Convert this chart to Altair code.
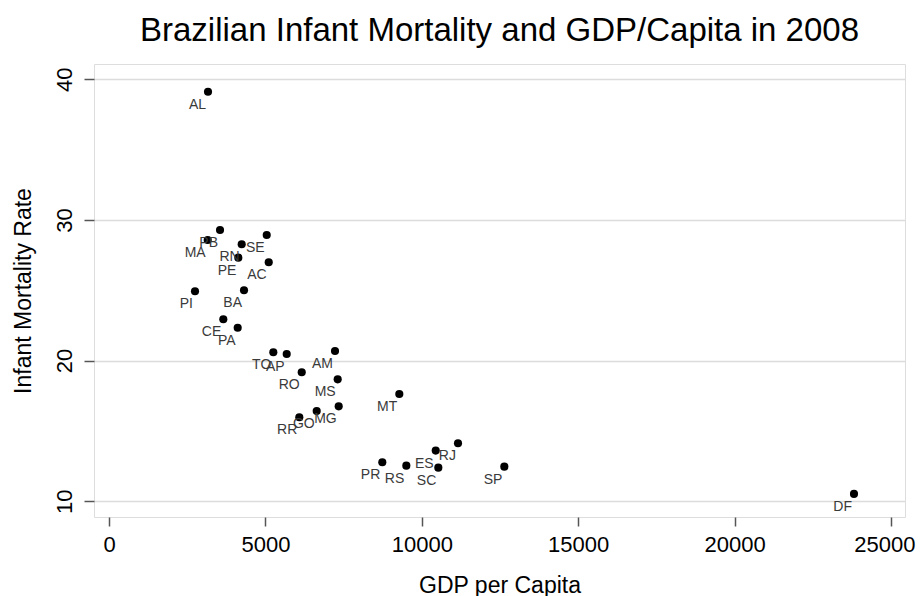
import altair as alt
import pandas as pd

states = ["AL", "MA", "PB", "SE", "RN", "PE", "AC", "PI", "BA", "CE", "PA",
          "TO", "AP", "AM", "RO", "MS", "MT", "MG", "GO", "RR",
          "PR", "RS", "ES", "RJ", "SC", "SP", "DF"]
gdp_per_capita = [3165, 3155, 3549, 5042, 4242, 4134, 5106, 2749, 4316, 3654, 4114,
                  5253, 5681, 7225, 6161, 7311, 9281, 7343, 6640, 6084,
                  8737, 9505, 10445, 11157, 10528, 12638, 23817]
infant_mortality = [39.12, 28.58, 29.29, 28.93, 28.27, 27.32, 26.99, 24.93, 25.00, 22.94, 22.34,
                    20.59, 20.47, 20.68, 19.17, 18.67, 17.63, 16.75, 16.42, 15.97,
                    12.77, 12.53, 13.60, 14.12, 12.39, 12.46, 10.52]

x_ticks = [0, 5000, 10000, 15000, 20000, 25000]
y_ticks = [10, 20, 30, 40]

df = pd.DataFrame({"state": states, "gdp": gdp_per_capita, "imr": infant_mortality})

FONT = "Liberation Sans"
W, H = 811, 453

x_enc = alt.X(
    "gdp:Q",
    scale=alt.Scale(domain=[-480, 25448], nice=False, zero=False),
    axis=alt.Axis(
        values=x_ticks, format="d", grid=False, domain=False,
        tickSize=9, tickWidth=1.5, tickColor="#555555",
        labelFont=FONT, labelFontSize=22, labelColor="black",
        labelBaseline="middle", labelPadding=18,
        labelFlush=14.5, labelFlushOffset=24,
        title="GDP per Capita", titleFont=FONT, titleFontSize=23,
        titleFontWeight="normal", titleColor="black",
        titleX=W / 2, titleY=68, titleAlign="center", titleBaseline="middle",
    ),
)
y_enc = alt.Y(
    "imr:Q",
    scale=alt.Scale(domain=[8.88, 41.09], nice=False, zero=False),
    axis=alt.Axis(
        values=y_ticks, format="d", grid=True, gridColor="#dcdcdc", gridWidth=1.5,
        domain=False,
        tickSize=10, tickWidth=1.5, tickColor="#555555",
        labelFont=FONT, labelFontSize=22, labelColor="black",
        labelAngle=270, labelAlign="center", labelBaseline="middle", labelPadding=20,
        title="Infant Mortality Rate", titleFont=FONT, titleFontSize=23,
        titleFontWeight="normal", titleColor="black",
        titleAngle=270, titleX=-71, titleY=H / 2, titleAlign="center",
        titleBaseline="middle",
    ),
)

base = alt.Chart(df)
points = base.mark_circle(size=66, color="black", opacity=1).encode(x=x_enc, y=y_enc)
labels = base.mark_text(
    font=FONT, fontSize=14, color="#3a3a3a", align="right", baseline="alphabetic",
    dx=-2, dy=17,
).encode(x="gdp:Q", y="imr:Q", text="state:N")

chart = (
    alt.layer(points, labels)
    .properties(
        width=W, height=H,
        title=alt.TitleParams(
            "Brazilian Infant Mortality and GDP/Capita in 2008",
            font=FONT, fontSize=33, fontWeight="normal", color="black",
            anchor="middle", baseline="alphabetic", offset=23, dy=33,
        ),
        autosize=alt.AutoSizeParams(type="none"),
        padding={"left": 86, "top": 56, "right": 11, "bottom": 79},
    )
    .configure_view(stroke="#555555", strokeWidth=1.5)
    .configure(background="white")
)

chart.save("out.html", embed_options={"renderer": "svg", "actions": False})
